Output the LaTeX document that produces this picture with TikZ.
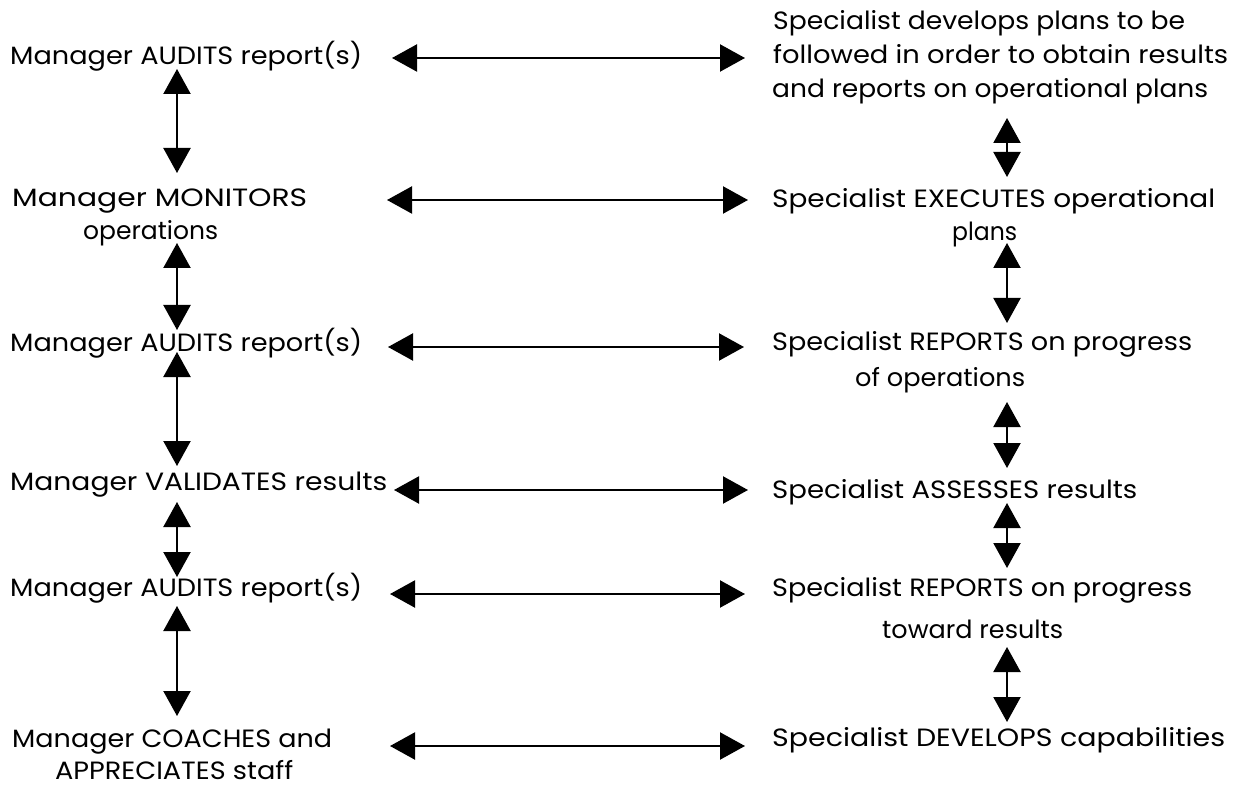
\documentclass[tikz,border=0pt]{standalone}
\usepackage{fontspec}
\usepackage{graphicx}
\usetikzlibrary{arrows.meta}
\newfontfamily\popfont{Poppins}
\newcommand{\fitw}[2]{\resizebox{#1pt}{\height}{#2}}
\tikzset{
  txt/.style={anchor=base west, inner sep=0pt, font=\popfont\fontsize{25}{30}\selectfont},
  dbl/.style={line width=2.2pt, {Triangle[length=25pt,width=27pt]}-{Triangle[length=25pt,width=27pt]}}
}
\begin{document}
\begin{tikzpicture}[x=1pt,y=-1pt]
\useasboundingbox[fill=white] (0,0) rectangle (1245,786);
% left column
\node[txt] (L1)  at (10,65)  {\fitw{352}{Manager AUDITS report(s)}};
\node[txt] (L2a) at (12,207) {\fitw{295}{Manager MONITORS}};
\node[txt] (L2b) at (83,240) {\fitw{135}{operations}};
\node[txt] (L3)  at (10,352) {\fitw{352}{Manager AUDITS report(s)}};
\node[txt] (L4)  at (10,490) {\fitw{377}{Manager VALIDATES results}};
\node[txt] (L5)  at (10,596) {\fitw{352}{Manager AUDITS report(s)}};
\node[txt] (L6a) at (12,747) {\fitw{320}{Manager COACHES and}};
\node[txt] (L6b) at (55,779) {\fitw{238}{APPRECIATES staff}};
% right column
\node[txt] (R1a) at (773,30)  {\fitw{412}{Specialist develops plans to be}};
\node[txt] (R1b) at (773,64)  {\fitw{455}{followed in order to obtain results}};
\node[txt] (R1c) at (772,98)  {\fitw{436}{and reports on operational plans}};
\node[txt] (R2a) at (772,208) {\fitw{443}{Specialist EXECUTES operational}};
\node[txt] (R2b) at (952,241) {\fitw{65}{plans}};
\node[txt] (R3a) at (772,350) {\fitw{420}{Specialist REPORTS on progress}};
\node[txt] (R3b) at (855,387) {\fitw{170}{of operations}};
\node[txt] (R4)  at (772,498) {\fitw{365}{Specialist ASSESSES results}};
\node[txt] (R5a) at (772,596) {\fitw{420}{Specialist REPORTS on progress}};
\node[txt] (R5b) at (882,638) {\fitw{181}{toward results}};
\node[txt] (R6)  at (772,746) {\fitw{453}{Specialist DEVELOPS capabilities}};
% arrow end points
\coordinate (h1l) at (392,58);  \coordinate (h1r) at (745,58);
\coordinate (h2l) at (387,200); \coordinate (h2r) at (748,200);
\coordinate (h3l) at (388,347); \coordinate (h3r) at (744,347);
\coordinate (h4l) at (394,490); \coordinate (h4r) at (748,490);
\coordinate (h5l) at (390,594); \coordinate (h5r) at (745,594);
\coordinate (h6l) at (390,746); \coordinate (h6r) at (745,746);
\coordinate (v1t) at (177,69);  \coordinate (v1b) at (177,173);
\coordinate (v2t) at (177,243); \coordinate (v2b) at (177,330);
\coordinate (v3t) at (177,352); \coordinate (v3b) at (177,466);
\coordinate (v4t) at (177,502); \coordinate (v4b) at (177,577);
\coordinate (v5t) at (177,606); \coordinate (v5b) at (177,716);
\coordinate (w1t) at (1007,118); \coordinate (w1b) at (1007,177);
\coordinate (w2t) at (1007,243); \coordinate (w2b) at (1007,323);
\coordinate (w3t) at (1007,402); \coordinate (w3b) at (1007,468);
\coordinate (w4t) at (1007,503); \coordinate (w4b) at (1007,568);
\coordinate (w5t) at (1007,647); \coordinate (w5b) at (1007,722);
% horizontal connectors
\foreach \i in {1,...,6} { \draw[dbl] (h\i l) -- (h\i r); }
% vertical connectors
\foreach \i in {1,...,5} {
  \draw[dbl] (v\i t) -- (v\i b);
  \draw[dbl] (w\i t) -- (w\i b);
}
\end{tikzpicture}
\end{document}
